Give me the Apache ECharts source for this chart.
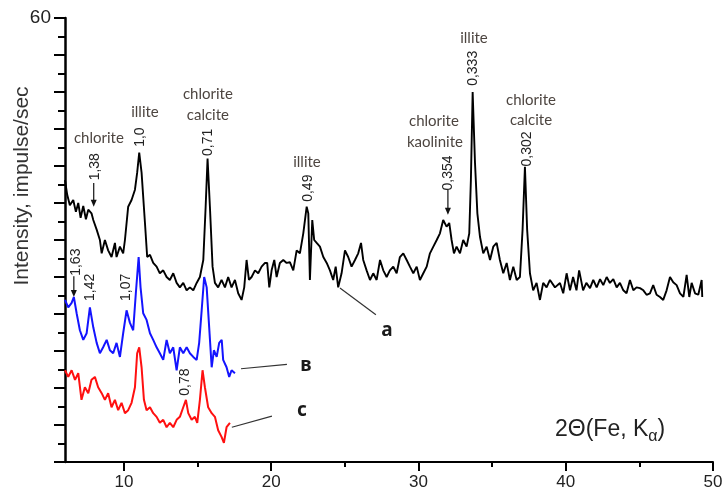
<!DOCTYPE html>
<html><head><meta charset="utf-8">
<script src="https://cdn.jsdelivr.net/npm/echarts@6/dist/echarts.min.js"></script>
<style>html,body{margin:0;padding:0;background:#fff}#c{width:726px;height:500px}</style>
</head><body><div id="c"></div>
<script>
// ---- data: sample a (black) ----
const aX = [6.0,6.15,6.33,6.56,6.74,6.9,7.06,7.24,7.42,7.58,7.8,7.92,8.15,8.37,8.49,8.71,8.93,9.16,9.39,9.5,9.73,9.95,10.07,10.29,10.52,10.75,10.9,11.04,11.2,11.43,11.58,11.77,11.99,12.22,12.44,12.67,12.9,13.12,13.35,13.58,13.8,14.03,14.26,14.48,14.71,14.94,15.16,15.39,15.55,15.68,15.84,16.02,16.18,16.4,16.63,16.86,17.08,
17.31,17.54,17.76,17.99,18.17,18.33,18.49,18.67,18.9,19.12,19.35,19.58,19.73,19.87,20.03,20.21,20.37,20.59,20.82,21.05,21.27,21.5,21.73,21.95,22.18,22.41,22.52,22.63,22.79,22.92,23.09,23.31,23.54,23.77,23.99,24.21,24.38,24.55,24.78,25.01,25.23,25.46,25.69,25.91,26.1,26.25,26.48,26.71,26.93,27.16,27.39,27.61,27.84,
28.06,28.29,28.52,28.74,28.97,29.2,29.42,29.65,29.88,30.1,30.33,30.56,30.78,31.01,31.24,31.46,31.68,31.91,32.09,32.25,32.41,32.59,32.82,33.04,33.27,33.45,33.56,33.68,33.84,34.0,34.18,34.4,34.63,34.86,35.08,35.31,35.53,35.76,35.99,36.21,36.44,36.67,36.89,37.07,37.23,37.38,37.57,37.79,38.02,38.25,38.47,38.7,
38.93,39.27,39.61,39.83,40.06,40.29,40.5,40.73,40.91,41.18,41.4,41.65,41.87,42.1,42.33,42.55,42.78,43.0,43.23,43.46,43.68,43.91,44.13,44.36,44.59,44.81,45.04,45.27,45.49,45.72,45.94,46.17,46.4,46.62,46.85,47.08,47.3,47.53,47.76,47.99,48.21,48.39,48.55,48.78,49.0,49.23,49.27];
const aY = [38.1,36.1,34.7,35.4,33.8,35.0,33.0,34.6,32.8,34.1,33.6,32.7,31.4,30.0,28.2,30.0,28.6,27.7,29.6,27.7,29.1,28.2,30.0,34.5,35.4,36.8,39.1,41.8,39.1,32.3,27.7,28.0,26.9,26.4,25.5,25.9,25.0,24.6,25.5,24.2,23.6,24.2,23.2,23.6,23.2,24.2,25.0,27.3,34.5,41.0,34.5,26.4,24.2,23.6,24.6,23.6,25.0,
23.6,24.6,22.8,21.9,23.6,27.3,24.6,25.0,25.9,25.5,26.4,26.9,26.9,23.6,25.9,27.3,25.0,26.9,27.3,26.9,27.0,25.9,28.6,28.2,30.9,34.5,33.6,24.6,32.7,30.0,29.6,29.1,27.7,26.9,25.9,24.6,26.4,23.6,25.5,28.6,27.7,26.4,27.3,28.2,29.6,27.3,25.9,24.6,25.5,24.6,27.3,25.9,25.0,
25.9,26.4,25.5,27.7,28.2,27.3,26.4,25.5,26.4,24.6,25.5,26.4,28.2,29.1,30.0,30.9,32.7,31.8,32.3,30.0,28.2,29.1,28.2,30.0,29.1,30.9,38.1,50.0,40.4,33.6,30.4,28.2,29.1,27.3,29.1,29.6,27.3,25.5,26.9,24.6,26.4,24.6,25.0,31.4,39.9,31.4,25.5,23.2,24.2,21.9,24.2,23.6,
24.6,23.6,24.2,22.8,25.5,23.2,25.0,23.2,25.9,23.2,24.2,23.5,24.6,23.6,24.7,23.9,25.0,24.2,24.7,23.6,24.2,23.2,22.8,24.6,23.2,23.6,23.5,23.2,22.6,22.8,23.9,22.6,22.3,21.9,23.2,25.0,24.3,23.9,22.8,22.3,25.3,22.3,24.2,22.8,22.6,24.6,22.3];
// ---- sample в (blue) ----
const bX = [6.0,6.22,6.45,6.6,6.79,7.01,7.24,7.47,7.69,7.92,8.15,8.37,8.59,8.83,9.05,9.27,9.5,9.73,9.95,10.18,10.41,10.63,10.81,11.0,11.13,11.31,11.54,11.77,11.99,12.22,12.44,12.67,12.9,13.12,13.35,13.58,13.8,14.03,14.26,14.48,14.71,14.94,15.11,15.28,15.45,15.62,15.79,15.96,16.11,16.3,16.47,16.64,16.74,16.97,17.15,17.31,17.54];
const bY = [21.9,20.9,21.5,22.3,20.1,17.8,16.5,17.4,20.9,18.2,16.1,14.7,15.5,16.5,15.1,14.7,16.1,14.2,17.4,20.5,18.8,17.8,22.8,27.7,23.6,20.1,19.2,17.4,16.5,15.5,14.7,13.8,16.5,14.7,15.5,12.4,15.5,14.7,15.5,14.7,14.2,13.8,16.1,20.5,25.0,23.6,18.2,12.8,15.1,14.2,16.1,16.5,13.8,12.8,11.5,12.4,12.0];
// ---- sample c (red) ----
const cX = [6.0,6.22,6.45,6.68,6.9,7.12,7.35,7.58,7.8,8.03,8.25,8.49,8.71,8.93,9.16,9.39,9.61,9.84,10.07,10.29,10.52,10.75,10.9,11.04,11.2,11.36,11.54,11.77,11.99,12.22,12.44,12.67,12.9,13.12,13.35,13.58,13.8,14.03,14.21,14.37,14.6,14.82,14.98,15.16,15.34,15.5,15.72,15.96,16.18,16.4,16.63,16.79,16.97,17.2];
const cY = [12.4,11.5,12.4,11.1,12.0,8.4,10.1,9.3,11.1,11.5,10.1,9.3,8.4,9.3,7.4,8.4,7.0,8.0,6.6,7.0,8.0,10.1,14.7,15.5,12.8,8.4,7.0,7.4,6.6,6.1,5.3,5.7,4.7,5.3,4.7,5.7,6.1,7.4,8.4,6.6,5.7,6.1,5.3,8.4,12.4,10.1,7.4,6.6,6.1,4.3,3.4,2.6,4.7,5.3];
// ---- axis ticks ----
const xMajorTicks = [10,20,30,40,50];
const xMinorTicks = [15,25,35,45];
// ---- annotations (data coordinates) ----
const mineralNames = [['chlorite',8.30,43.8],['illite',11.43,47.3],['chlorite',15.70,49.7],['calcite',15.70,46.9],['illite',22.43,40.5],['chlorite',31.05,46.1],['kaolinite',31.12,43.2],['illite',33.77,57.3],['chlorite',37.64,48.9],['calcite',37.64,46.2]];
const dSpacings = [['1,38',8.03,39.9],['1,0',11.09,43.9],['0,71',15.70,43.2],['0,49',22.5,37.0],['0,354',32.0,39.05],['0,333',33.7,53.2],['0,302',37.37,42.3],['1,63',6.74,27.0],['1,42',7.69,23.6],['1,07',10.14,23.6],['0,78',14.14,10.8]];
const arrowMarks = [[7.95,37.7,34.5],[32.0,36.8,33.4],[6.6,25.1,22.3]];
const sampleTags = [['a',24.67,23.5,27.11,19.9,27.86,17.8],['в',17.95,12.6,21.07,13.2,22.36,13.0],['c',17.33,4.7,20.05,6.2,22.09,7.0]];

const zip = (xs, ys) => xs.map((x, i) => [x, ys[i]]);
const chart = echarts.init(document.getElementById('c'));
const tickStyle = {color:'#000', width:2};
chart.setOption({
  animation:false,
  backgroundColor:'#fff',
  grid:{left:65, right:13, top:18, bottom:38},
  xAxis:[
    {type:'value', min:6, max:50, position:'bottom',
     axisLine:{lineStyle:{color:'#000', width:2}},
     axisTick:{customValues:xMajorTicks, length:9, lineStyle:tickStyle},
     axisLabel:{customValues:xMajorTicks, fontSize:17, color:'#222', fontFamily:'Liberation Sans', margin:12},
     splitLine:{show:false}},
    {type:'value', min:6, max:50, position:'bottom',
     axisLine:{show:false},
     axisTick:{customValues:xMinorTicks, length:5, lineStyle:tickStyle},
     axisLabel:{show:false}, splitLine:{show:false}}
  ],
  yAxis:{type:'value', min:0, max:60, interval:5,
    axisLine:{show:true, lineStyle:{color:'#000', width:2.5}},
    axisTick:{show:true, length:11, lineStyle:tickStyle},
    minorTick:{show:true, splitNumber:2, length:7, lineStyle:tickStyle},
    axisLabel:{formatter:v => v === 60 ? '60' : '', fontSize:19, color:'#222', fontFamily:'Liberation Sans', margin:14},
    splitLine:{show:false}},
  series:[
    {type:'line', data:zip(aX,aY), showSymbol:false, lineStyle:{color:'#000', width:1.9}, itemStyle:{color:'#000'}},
    {type:'line', data:zip(bX,bY), showSymbol:false, lineStyle:{color:'#1414ff', width:2}, itemStyle:{color:'#1414ff'}},
    {type:'line', data:zip(cX,cY), showSymbol:false, lineStyle:{color:'#ff1010', width:2}, itemStyle:{color:'#ff1010'}}
  ]
});

const P = (x, y) => chart.convertToPixel({xAxisIndex:0, yAxisIndex:0}, [x, y]);
const g = [];
mineralNames.forEach(([t,x,y]) => { const p = P(x,y);
  g.push({type:'text', x:p[0], y:p[1], style:{text:t, font:'15px Lato', fill:'#4d4540', align:'center', verticalAlign:'middle'}}); });
dSpacings.forEach(([t,x,y]) => { const p = P(x,y);
  g.push({type:'text', x:p[0], y:p[1], rotation:Math.PI/2, style:{text:t, font:'14px "Liberation Sans"', fill:'#222', align:'center', verticalAlign:'middle'}}); });
arrowMarks.forEach(([x,y1,y2]) => { const a = P(x,y1), b = P(x,y2);
  g.push({type:'line', shape:{x1:a[0], y1:a[1], x2:b[0], y2:b[1]-5}, style:{stroke:'#111', lineWidth:1.2}});
  g.push({type:'polygon', shape:{points:[[b[0]-3,b[1]-7],[b[0]+3,b[1]-7],[b[0],b[1]]]}, style:{fill:'#111'}}); });
sampleTags.forEach(([t,x1,y1,x2,y2,lx,ly]) => { const a = P(x1,y1), b = P(x2,y2), l = P(lx,ly);
  g.push({type:'line', shape:{x1:a[0], y1:a[1], x2:b[0], y2:b[1]}, style:{stroke:'#333', lineWidth:1.2}});
  g.push({type:'text', x:l[0], y:l[1], style:{text:t, font:'bold 19px "Noto Sans"', fill:'#1a1a1a', align:'center', verticalAlign:'middle'}}); });
// axis titles
g.push({type:'text', x:22, y:186, rotation:Math.PI/2, style:{text:'Intensity, impulse/sec', font:'21px "Liberation Sans"', fill:'#333', align:'center', verticalAlign:'middle'}});
g.push({type:'text', x:555, y:430, style:{text:'{m|2Θ(Fe, K}{s|α}{m|)}', align:'left', verticalAlign:'middle',
  rich:{m:{font:'23px "Liberation Sans"', fill:'#222'}, s:{font:'16px "Liberation Sans"', fill:'#222', padding:[14,0,0,0]}}}});
chart.setOption({graphic:g});
</script></body></html>
